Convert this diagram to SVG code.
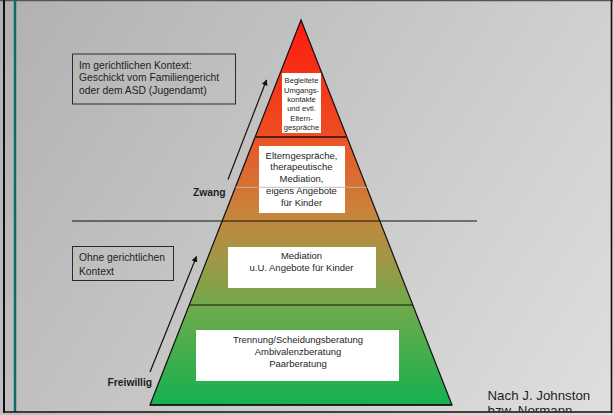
<svg xmlns="http://www.w3.org/2000/svg" width="613" height="415" viewBox="0 0 613 415">
<style>
text{font-family:"Liberation Sans",Arial,sans-serif;fill:#1e1e1e}
.box{fill:#ffffff;stroke:none}
.ctx{fill:none;stroke:#2a2a2a;stroke-width:1}
.lvl{font-size:9.5px;text-anchor:middle}
.top{font-size:7.6px;text-anchor:middle}
.ctxt{font-size:10.3px}
.bold{font-size:10.3px;font-weight:bold}
.sep{stroke:#111;stroke-width:1.2;fill:none}
.arr{stroke:#111;stroke-width:1.2;fill:none;marker-end:url(#ah)}
</style>
<defs>
<linearGradient id="bgg" x1="0" y1="0" x2="613" y2="415" gradientUnits="userSpaceOnUse">
<stop offset="0" stop-color="#b1b1b1"/>
<stop offset="1" stop-color="#dfdfdf"/>
</linearGradient>
<linearGradient id="pg" x1="0" y1="20" x2="0" y2="405" gradientUnits="userSpaceOnUse">
<stop offset="0" stop-color="#ff1a0e"/>
<stop offset="0.29" stop-color="#ee4c22"/>
<stop offset="0.33" stop-color="#e65a2a"/>
<stop offset="0.5" stop-color="#c8843a"/>
<stop offset="0.6" stop-color="#a89445"/>
<stop offset="0.75" stop-color="#6eaa4a"/>
<stop offset="1" stop-color="#14b150"/>
</linearGradient>
<marker id="ah" viewBox="0 0 10 10" refX="9" refY="5" markerWidth="5" markerHeight="5" orient="auto" markerUnits="strokeWidth">
<path d="M0,0 L10,5 L0,10 z" fill="#111"/>
</marker>
<clipPath id="clip"><rect x="0" y="0" width="613" height="411.5"/></clipPath>
</defs>

<g id="background">
<rect x="0" y="0" width="613" height="415" fill="url(#bgg)"/>
</g>

<g id="pyramid">
<polygon points="301,20 150,405 452,405" fill="url(#pg)" stroke="#111" stroke-width="1.2"/>
<line x1="255" y1="137" x2="347" y2="137" stroke="#5a1a10" stroke-width="1.8"/>
<line x1="189.5" y1="305" x2="412.5" y2="305" class="sep"/>
<line x1="150" y1="405" x2="452" y2="405" stroke="#111" stroke-width="1.6"/>
</g>

<g id="level-top">
<rect class="box" x="282" y="73" width="39" height="60"/>
<text class="top" x="301.5" y="83">Begleitete</text>
<text class="top" x="301.5" y="92.5">Umgangs-</text>
<text class="top" x="301.5" y="102">kontakte</text>
<text class="top" x="301.5" y="111">und evtl.</text>
<text class="top" x="301.5" y="120.5">Eltern-</text>
<text class="top" x="301.5" y="130">gespräche</text>
</g>

<g id="level-2">
<rect class="box" x="259" y="146" width="86" height="67"/>
<text class="lvl" x="301.5" y="158.5">Elterngespräche,</text>
<text class="lvl" x="301.5" y="170">therapeutische</text>
<text class="lvl" x="301.5" y="182">Mediation,</text>
<text class="lvl" x="301.5" y="194">eigens Angebote</text>
<text class="lvl" x="301.5" y="205.5">für Kinder</text>
<line x1="235.5" y1="187.3" x2="367.5" y2="187.3" stroke="#c9b4aa" stroke-width="0.9"/>
</g>

<g id="level-3">
<rect class="box" x="228" y="247" width="148" height="41"/>
<text class="lvl" x="301.5" y="258.5">Mediation</text>
<text class="lvl" x="301.5" y="270.5">u.U. Angebote für Kinder</text>
</g>

<g id="level-4">
<rect class="box" x="196" y="330" width="203" height="51"/>
<text class="lvl" x="298" y="342.5">Trennung/Scheidungsberatung</text>
<text class="lvl" x="298" y="355">Ambivalenzberatung</text>
<text class="lvl" x="298" y="366.5">Paarberatung</text>
</g>

<g id="context-court">
<rect class="ctx" x="72.5" y="54" width="163" height="50"/>
<text class="ctxt" x="79" y="68.5">Im gerichtlichen Kontext:</text>
<text class="ctxt" x="79" y="81.3">Geschickt vom Familiengericht</text>
<text class="ctxt" x="79" y="94">oder dem ASD (Jugendamt)</text>
</g>

<g id="context-free">
<rect class="ctx" x="72.5" y="246.5" width="101" height="34"/>
<text class="ctxt" x="79" y="261">Ohne gerichtlichen</text>
<text class="ctxt" x="79" y="274.5">Kontext</text>
</g>

<g id="label-zwang">
<text class="bold" x="193" y="195.5">Zwang</text>
</g>

<g id="label-freiwillig">
<text class="bold" x="107.5" y="385.5">Freiwillig</text>
</g>

<g id="source" clip-path="url(#clip)">
<text x="487.5" y="400" style="font-size:13.3px">Nach J. Johnston</text>
<text x="487.5" y="414.5" style="font-size:13.3px">bzw.  Normann</text>
</g>

<g id="connectors">
<line class="sep" x1="72" y1="221" x2="477" y2="221"/>
<line class="arr" x1="228" y1="179.5" x2="266.5" y2="80"/>
<line class="arr" x1="150" y1="372" x2="196.5" y2="256.5"/>
</g>

<g id="frame">
<line x1="0" y1="0.5" x2="613" y2="0.5" stroke="#555" stroke-width="1.5"/>
<line x1="4" y1="0" x2="4" y2="413" stroke="#111" stroke-width="2"/>
<line x1="15" y1="0" x2="15" y2="412" stroke="#0a6b6b" stroke-width="2.5"/>
<line x1="611.5" y1="0" x2="611.5" y2="413" stroke="#111" stroke-width="1.6"/>
<line x1="3" y1="412" x2="612" y2="412" stroke="#111" stroke-width="1.6"/>
</g>
</svg>
